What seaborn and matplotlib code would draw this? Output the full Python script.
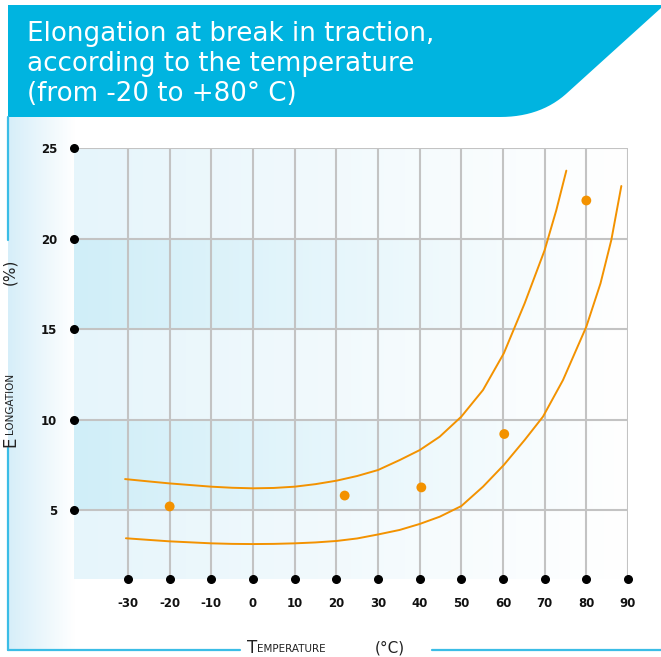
import numpy as np
import pandas as pd
import matplotlib
matplotlib.use("Agg")
import matplotlib.pyplot as plt
from matplotlib.colors import LinearSegmentedColormap
from matplotlib.patches import Polygon
import seaborn as sns

# measured points
temp_points = [-20, 22, 40.4, 60.3, 80]
elong_points = [5.2, 5.8, 6.25, 9.2, 22.1]

# upper and lower envelope curves
upper_t = [-30.7, -25, -20, -10, -5, 0, 5, 10, 15, 20, 25, 30, 35.2, 40, 44.8, 50,
           55.2, 60.2, 65.2, 70, 72.8, 75.2]
upper_e = [6.71, 6.58, 6.47, 6.29, 6.23, 6.2, 6.22, 6.29, 6.43, 6.62, 6.88, 7.21, 7.76,
           8.31, 9.05, 10.16, 11.63, 13.66, 16.42, 19.36, 21.57, 23.75]
lower_t = [-30.5, -25, -20, -10, -5, 0, 5, 10, 15, 20, 25, 30, 35.2, 40, 44.8, 50, 55.2,
           60.2, 65.2, 69.6, 74.4, 80, 83.4, 86, 88.4]
lower_e = [3.44, 3.35, 3.27, 3.16, 3.13, 3.12, 3.13, 3.16, 3.21, 3.29, 3.43, 3.65, 3.9,
           4.23, 4.63, 5.22, 6.29, 7.49, 8.87, 10.16, 12.18, 15.13, 17.52, 19.92, 22.9]

x_ticks = [-30, -20, -10, 0, 10, 20, 30, 40, 50, 60, 70, 80, 90]
y_ticks = [5, 10, 15, 20, 25]

title = "Elongation at break in traction,\naccording to the temperature\n(from -20 to +80° C)"

sns.set_style("white")
plt.rcParams['font.family'] = ['DejaVu Sans']

W, H = 661, 657
fig = plt.figure(figsize=(W / 100, H / 100), dpi=100)

# background layer in pixel coordinates
bg = fig.add_axes([0, 0, 1, 1])
bg.set_xlim(0, W)
bg.set_ylim(H, 0)
bg.axis("off")

blue = "#00b4e0"
line_blue = "#3bbde6"

strip = LinearSegmentedColormap.from_list("strip", ["#d6eef9", "#ffffff"])
bg.imshow(np.linspace(0, 1, 100).reshape(1, -1), cmap=strip, aspect="auto",
          extent=[8, 75, 650, 117], zorder=0)

# title banner with a rounded cut corner
u = np.linspace(0, 1, 15)
p0, p1, p2 = np.array([566, 94]), np.array([540, 117]), np.array([500, 117])
corner = [tuple((1 - s) ** 2 * p0 + 2 * (1 - s) * s * p1 + s ** 2 * p2) for s in u]
banner = [(8, 5), (661, 5), (661, 8)] + corner + [(8, 117)]
bg.add_patch(Polygon(banner, closed=True, facecolor=blue, edgecolor="none", zorder=1))
fig.text(27 / W, 1 - 21 / H, title, color="white", fontsize=18.8, va="top",
         ha="left", linespacing=1.2)

# frame lines
bg.plot([8, 8], [117, 240], color=line_blue, lw=1.6)
bg.plot([8, 8], [448, 650], color=line_blue, lw=1.6)
bg.plot([8, 240], [650, 650], color=line_blue, lw=1.6)
bg.plot([432, 661], [650, 650], color=line_blue, lw=1.6)

# axis titles in small caps style
fig.text(247 / W, 1 - 648 / H, "T", fontsize=12, va="center", ha="left", color="#222222")
fig.text(257 / W, 1 - 649 / H, "EMPERATURE", fontsize=7.5, va="center", ha="left", color="#222222")
fig.text(375 / W, 1 - 648 / H, "(°C)", fontsize=11, va="center", ha="left", color="#222222")
fig.text(10 / W, 1 - 442 / H, "E", fontsize=12, va="center", ha="center", rotation=90, color="#222222")
fig.text(10 / W, 1 - 434 / H, "LONGATION", fontsize=7.5, va="bottom", ha="center", rotation=90, color="#222222")
fig.text(10 / W, 1 - 272 / H, "(%)", fontsize=11, va="center", ha="center", rotation=90, color="#222222")

# main plot
ax = fig.add_axes([74 / W, 78 / H, 554 / W, 431 / H])
ax.set_xlim(-42.96, 90)
ax.set_ylim(1.19, 25)
for s in ax.spines.values():
    s.set_visible(False)
ax.patch.set_alpha(0)

dark = LinearSegmentedColormap.from_list("dark", ["#d0eef8", "#ffffff"])
light = LinearSegmentedColormap.from_list("light", ["#e6f5fb", "#ffffff"])
grad = np.linspace(0, 1, 200).reshape(1, -1)
bands = [(1.19, 5, light), (5, 10, dark), (10, 15, light), (15, 20, dark), (20, 25, light)]
for lo, hi, cm in bands:
    ax.imshow(grad, cmap=cm, aspect="auto", extent=[-42.96, 90, lo, hi], zorder=0)

grid_col = "#c3c3c3"
ax.hlines(y_ticks, -42.96, 90, color=grid_col, lw=1.5, zorder=1)
ax.vlines(x_ticks, 1.19, 25, color=grid_col, lw=1.5, zorder=1)
ax.scatter([-42.96] * len(y_ticks), y_ticks, s=30, color="black", zorder=3, clip_on=False)
ax.scatter(x_ticks, [1.19] * len(x_ticks), s=30, color="black", zorder=3, clip_on=False)

orange = "#f39200"
curves = pd.concat([
    pd.DataFrame({"t": upper_t, "e": upper_e, "c": "upper"}),
    pd.DataFrame({"t": lower_t, "e": lower_e, "c": "lower"}),
])
for name, d in curves.groupby("c"):
    sns.lineplot(x=d["t"], y=d["e"], ax=ax, color=orange, lw=1.4, sort=False,
                 estimator=None, zorder=4)

pts = pd.DataFrame({"t": temp_points, "e": elong_points})
sns.scatterplot(data=pts, x="t", y="e", ax=ax, color=orange, s=50,
                edgecolor="none", zorder=5)

ax.set_xticks(x_ticks)
ax.set_yticks(y_ticks)
ax.set_xticklabels([str(v) for v in x_ticks], fontsize=8.5, fontweight="bold")
ax.set_yticklabels([str(v) for v in y_ticks], fontsize=8.5, fontweight="bold")
ax.tick_params(axis="x", length=0, pad=13, colors="#111111")
ax.tick_params(axis="y", length=0, pad=12, colors="#111111")
ax.set_xlabel("")
ax.set_ylabel("")

fig.savefig("out.png", dpi=100)
